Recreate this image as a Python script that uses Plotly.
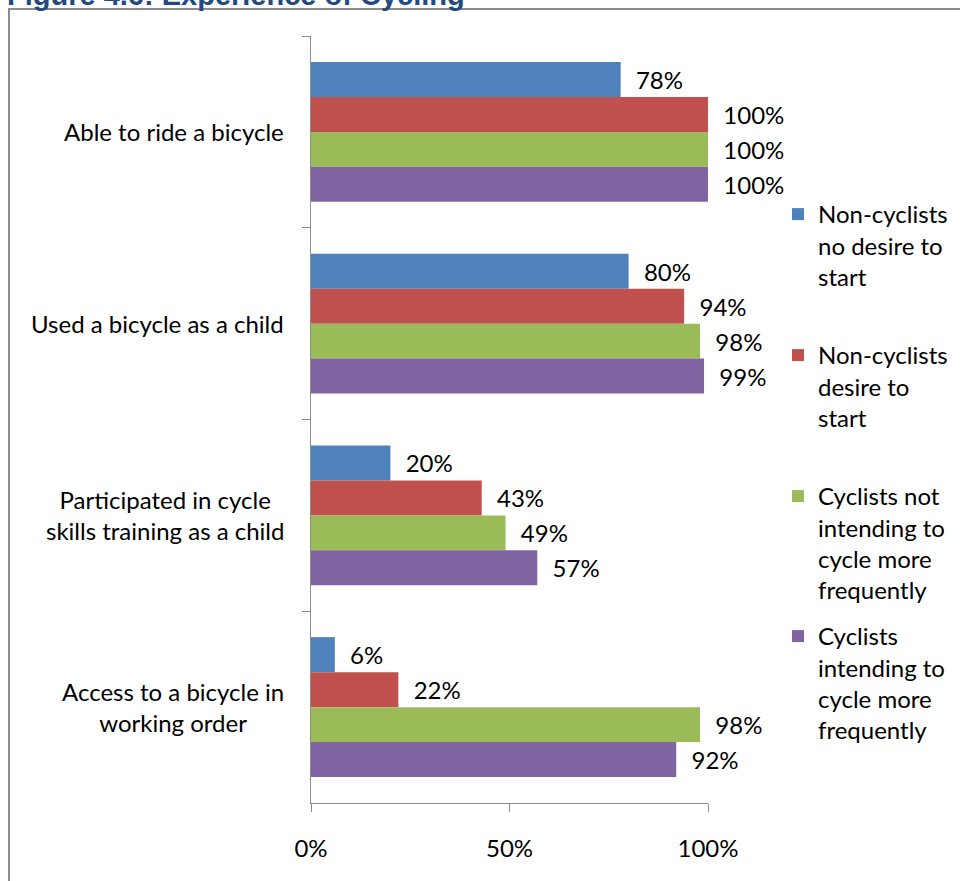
import plotly.graph_objects as go

categories = ["Able to ride a bicycle", "Used a bicycle as a child",
              "Participated in cycle skills training as a child",
              "Access to a bicycle in working order"]
category_labels = ["Able to ride a bicycle", "Used a bicycle as a child",
                   "Participated in cycle<br>skills training as a child",
                   "Access to a bicycle in<br>working order"]
series_names = ["Non-cyclists<br>no desire to<br>start",
                "Non-cyclists<br>desire to<br>start",
                "Cyclists not<br>intending to<br>cycle more<br>frequently",
                "Cyclists<br>intending to<br>cycle more<br>frequently"]
non_cyclists_no_desire = [0.78, 0.80, 0.20, 0.06]
non_cyclists_desire = [1.00, 0.94, 0.43, 0.22]
cyclists_not_intending = [1.00, 0.98, 0.49, 0.98]
cyclists_intending = [1.00, 0.99, 0.57, 0.92]
series_values = [non_cyclists_no_desire, non_cyclists_desire,
                 cyclists_not_intending, cyclists_intending]
colors = ["#4F81BD", "#C0504D", "#9BBB59", "#8064A2"]
x_tick_vals = [0, 0.5, 1.0]
x_tick_text = ["0%", "50%", "100%"]
title_text = "Figure 4.6: Experience of Cycling"

W, H = 960, 881
L, R, T, B = 311, 252, 36, 78
PW, PH = W - L - R, H - T - B

def px_x(px):
    return (px - L) / PW

def px_y(py):
    return (H - B - py) / PH

FONT = "Lato"
FS = 24
fig = go.Figure()
legend_ids = ["legend", "legend2", "legend3", "legend4"]
for name, vals, col, lid in zip(series_names, series_values, colors, legend_ids):
    fig.add_trace(go.Bar(
        y=categories, x=vals, name=name, orientation="h",
        marker=dict(color=col, line=dict(width=0)),
        text=[f"\u00a0\u00a0{round(v*100)}%" for v in vals],
        textposition="outside", cliponaxis=False, constraintext="none",
        textfont=dict(family=FONT, size=FS, color="#000000"),
        legend=lid, hoverinfo="skip",
    ))

legend_tops = [192, 333, 474, 614]
layout_legends = {}
for lid, top in zip(legend_ids, legend_tops):
    layout_legends[lid] = dict(
        x=px_x(778), y=px_y(top), xanchor="left", yanchor="top",
        font=dict(family=FONT, size=FS, color="#000000"),
        valign="top", bgcolor="rgba(0,0,0,0)", itemwidth=30,
    )

annotations = []
for cat, lab in zip(categories, category_labels):
    annotations.append(dict(
        x=px_x(286), xref="paper", xanchor="right", y=cat, yref="y",
        text=lab, showarrow=False, align="center",
        font=dict(family=FONT, size=FS, color="#000000"),
    ))
annotations.append(dict(
    x=px_x(5), xref="paper", xanchor="left", y=px_y(13), yref="paper",
    yanchor="bottom", text=f"<b>{title_text}</b>", showarrow=False,
    font=dict(family="Liberation Sans", size=29, color="#23497F"),
))

fig.update_layout(
    width=W, height=H,
    margin=dict(l=L, r=R, t=T, b=B, autoexpand=False),
    paper_bgcolor="white", plot_bgcolor="white",
    barmode="group", bargap=0.27, bargroupgap=0,
    showlegend=True,
    annotations=annotations,
    shapes=[dict(type="rect", xref="paper", yref="paper",
                 x0=px_x(9), x1=px_x(975), y0=px_y(9), y1=px_y(900),
                 line=dict(color="#8C8C8C", width=2), layer="below")],
    xaxis=dict(range=[0, 1], tickvals=x_tick_vals, ticktext=x_tick_text,
               showgrid=False, zeroline=False, showline=True,
               linecolor="#8C8C8C", linewidth=1, ticks="outside", ticklen=8,
               tickcolor="#8C8C8C", ticklabelstandoff=16,
               tickfont=dict(family=FONT, size=FS, color="#000000")),
    yaxis=dict(range=[3.5, -0.5], showticklabels=False, showgrid=False,
               zeroline=False, showline=True, linecolor="#8C8C8C", linewidth=1,
               ticks="outside", ticklen=8, tickcolor="#8C8C8C",
               tickson="boundaries"),
    **layout_legends,
)

fig.write_html("out.html", config={"displayModeBar": False},
               post_script="document.body.style.margin='0px';")
